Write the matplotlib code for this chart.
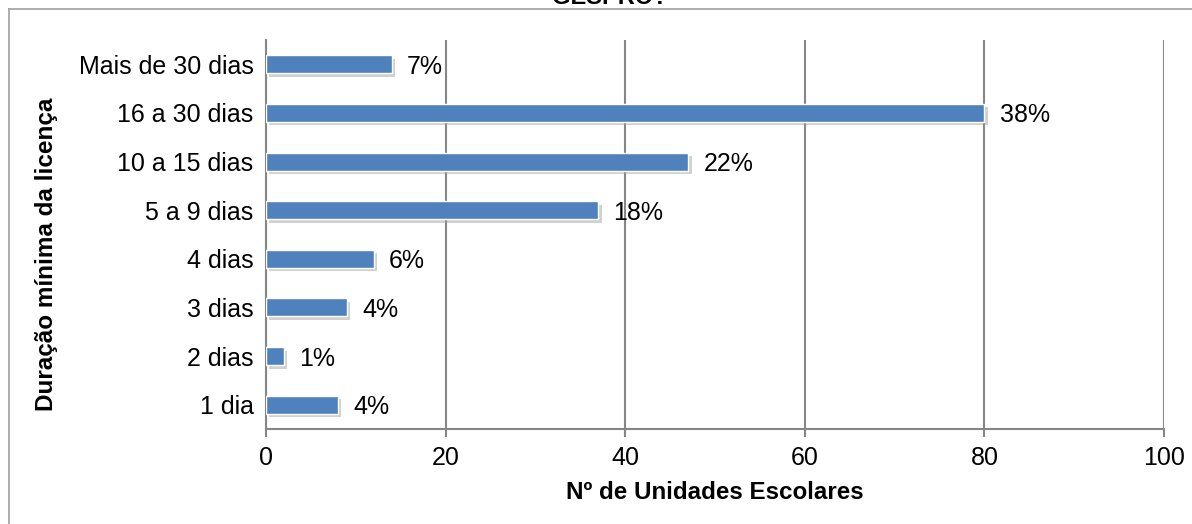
import matplotlib
matplotlib.use("Agg")
import matplotlib.pyplot as plt
import matplotlib.patheffects as pe
from matplotlib.lines import Line2D

plt.rcParams['font.family'] = ['Liberation Sans', 'DejaVu Sans']

categories = ["1 dia", "2 dias", "3 dias", "4 dias", "5 a 9 dias",
              "10 a 15 dias", "16 a 30 dias", "Mais de 30 dias"]
counts = [8, 2, 9, 12, 37, 47, 80, 14]
percent_labels = ["4%", "1%", "4%", "6%", "18%", "22%", "38%", "7%"]
x_ticks = [0, 20, 40, 60, 80, 100]

W, H = 1192, 524
FS = 18
fig = plt.figure(figsize=(W / 100, H / 100), dpi=100)
ax = fig.add_axes([266 / W, 1 - 429 / H, (1164 - 266) / W, (429 - 40) / H])

grid_color = "#868686"
bar_color = "#4F81BD"

ypos = list(range(len(categories)))
bars = ax.barh(ypos, counts, height=0.37, color=bar_color,
               edgecolor="white", linewidth=1.0, zorder=3)
for b in bars:
    b.set_path_effects([pe.SimplePatchShadow(offset=(2.5, -2.5),
                                             shadow_rgbFace="#9a9a9a",
                                             alpha=0.45),
                        pe.Normal()])

for y, v, lab in zip(ypos, counts, percent_labels):
    ax.annotate(lab, xy=(v, y), xytext=(11, 0), textcoords="offset points",
                ha="left", va="center_baseline", fontsize=FS, color="black",
                zorder=4)

ax.set_xlim(0, 100)
ax.set_ylim(-0.5, len(categories) - 0.5)
ax.set_xticks(x_ticks)
ax.set_xticklabels([str(t) for t in x_ticks], fontsize=FS)
ax.set_yticks(ypos)
ax.set_yticklabels(categories, fontsize=FS)
for t in ax.get_yticklabels():
    t.set_verticalalignment("center_baseline")
ax.tick_params(axis="y", length=0, pad=9)
ax.tick_params(axis="x", length=6, width=1.5, color=grid_color, pad=6,
               direction="out")

ax.grid(axis="x", color=grid_color, linewidth=1.5, zorder=0)
ax.set_axisbelow(True)
for side in ["top", "right"]:
    ax.spines[side].set_visible(False)
ax.spines["left"].set_color(grid_color)
ax.spines["left"].set_linewidth(1.5)
ax.spines["bottom"].set_color(grid_color)
ax.spines["bottom"].set_linewidth(1.5)

ax.set_xlabel("Nº de Unidades Escolares", fontsize=17.4, fontweight="bold",
              labelpad=8)
fig.text(47 / W, 1 - 254 / H, "Duração mínima da licença", rotation=90,
         ha="center", va="center", fontsize=17.5, fontweight="bold")

# chart title sits partly above the frame
fig.text(610 / W, 1 - 4 / H, "GESPRO?", ha="center", va="baseline",
         fontsize=17, fontweight="bold")

# outer frame lines (left and top)
fig.add_artist(Line2D([8.5 / W, 8.5 / W], [0, 1 - 9 / H],
                      transform=fig.transFigure, color="#a0a0a0", linewidth=1.2))
fig.add_artist(Line2D([8.5 / W, 1], [1 - 9 / H, 1 - 9 / H],
                      transform=fig.transFigure, color="#a0a0a0", linewidth=1.2))

fig.savefig("out.png", dpi=100)
